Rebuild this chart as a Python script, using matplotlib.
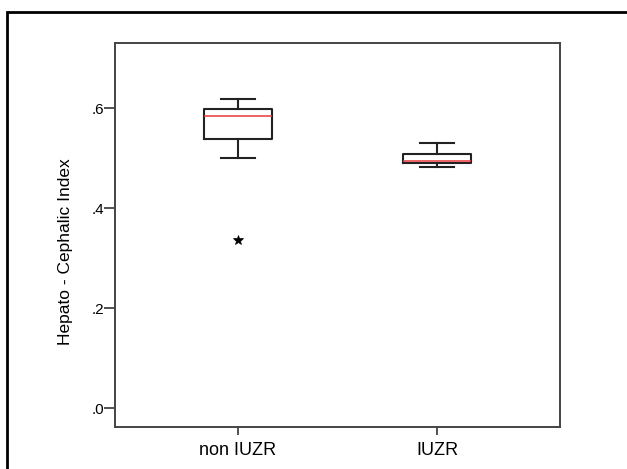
import matplotlib
matplotlib.use("Agg")
import matplotlib.pyplot as plt
from matplotlib.patches import Rectangle

plt.rcParams['font.family'] = ['Liberation Sans', 'DejaVu Sans']

# boxplot values
groups = ['non IUZR', 'IUZR']
whislo = [0.500, 0.482]
q1 = [0.538, 0.490]
med = [0.585, 0.493]
q3 = [0.598, 0.508]
whishi = [0.618, 0.530]
outliers = [[0.336], []]

yticks = [0.0, 0.2, 0.4, 0.6]
ytick_labels = ['.0', '.2', '.4', '.6']

W, H = 627, 469
fig = plt.figure(figsize=(W / 100, H / 100), dpi=100)
ax = fig.add_axes([115 / W, 1 - 427 / H, (560 - 115) / W, (427 - 43) / H])

stats = []
for i in range(len(groups)):
    stats.append(dict(label=groups[i], whislo=whislo[i], q1=q1[i], med=med[i],
                      q3=q3[i], whishi=whishi[i], fliers=outliers[i]))

ax.bxp(stats, positions=[1, 2], widths=0.337, showfliers=True,
       boxprops=dict(color='#222222', linewidth=1.5),
       whiskerprops=dict(color='#222222', linewidth=1.5),
       capprops=dict(color='#222222', linewidth=1.5),
       capwidths=0.168,
       medianprops=dict(color='#e8383d', linewidth=1.1),
       flierprops=dict(marker='*', markersize=7, markeredgecolor='black',
                       markerfacecolor='black', markeredgewidth=0.5))

ax.set_xlim(0.382, 2.618)
ax.set_ylim(-0.038, 0.730)
ax.set_yticks(yticks)
ax.set_yticklabels(ytick_labels)
ax.set_ylabel('Hepato - Cephalic Index', fontsize=12.5)
ax.yaxis.set_label_coords(-0.095, 0.458)

for s in ax.spines.values():
    s.set_color('#444444')
    s.set_linewidth(1.4)
ax.tick_params(direction='out', width=1.2, colors='#333333', labelcolor='black')
ax.tick_params(axis='y', length=8, labelsize=11, pad=0)
ax.tick_params(axis='x', length=6, labelsize=13, pad=5)

# outer frame of the chart window
fig.patches.append(Rectangle((7 / W, -0.1), 1.2, 1 - 12 / H + 0.1,
                             transform=fig.transFigure, fill=False,
                             edgecolor='black', linewidth=2.0))

fig.savefig('out.png', dpi=100)
